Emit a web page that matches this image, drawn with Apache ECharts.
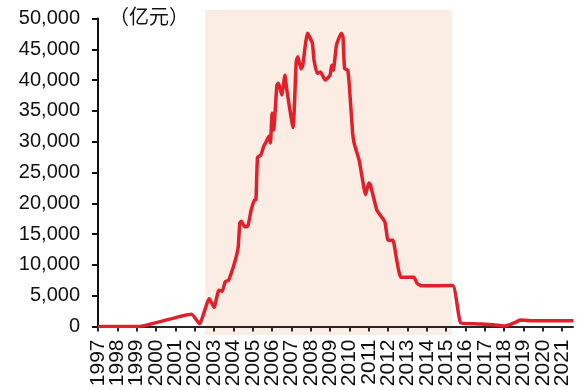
<!DOCTYPE html>
<html>
<head>
<meta charset="utf-8">
<script src="https://cdn.jsdelivr.net/npm/echarts@6/dist/echarts.min.js"></script>
<style>
  html, body { margin: 0; padding: 0; background: #fff; }
  #chart { width: 577px; height: 390px; }
</style>
</head>
<body>
<div id="chart"></div>
<script>
// Month of each observation (YYYY-MM)
const months = [
  '1997-01', '1999-02', '2001-11', '2002-04', '2002-10', '2003-01', '2003-04', '2003-06',
  '2003-08', '2003-10', '2004-01', '2004-03', '2004-04', '2004-05', '2004-06', '2004-08',
  '2004-10', '2004-12', '2005-02', '2005-03', '2005-04', '2005-06', '2005-08', '2005-09',
  '2005-11', '2005-12', '2006-01', '2006-02', '2006-04', '2006-05', '2006-07', '2006-09',
  '2006-10', '2007-02', '2007-04', '2007-05', '2007-07', '2007-08', '2007-11', '2008-02',
  '2008-03', '2008-05', '2008-07', '2008-10', '2009-01', '2009-02', '2009-03', '2009-05',
  '2009-08', '2009-09', '2009-10', '2009-12', '2010-01', '2010-03', '2010-04', '2010-07',
  '2010-10', '2010-11', '2011-01', '2011-02', '2011-06', '2011-08', '2011-11', '2012-01',
  '2012-04', '2012-06', '2012-09', '2013-05', '2013-07', '2013-10', '2013-11', '2015-05',
  '2015-10', '2016-06', '2017-06', '2018-01', '2018-04', '2018-09', '2018-11', '2019-06',
  '2020-06', '2021-08'
];

// Outstanding balance, 亿元
const balance = [
  0, 0, 2000, 450, 4500, 3100, 5900, 5700,
  7300, 7500, 9700, 11600, 12900, 16800, 17100, 16200,
  16300, 18900, 20500, 20600, 27500, 27800, 29400, 29800,
  30900, 29800, 34600, 31900, 39200, 39500, 37600, 40800,
  38700, 32300, 43000, 43800, 41800, 42300, 47600, 46000,
  43300, 41100, 41300, 40000, 40800, 42400, 41600, 45700,
  47600, 47000, 41900, 41600, 38900, 31400, 29700, 27000,
  22500, 21400, 23300, 23000, 18900, 18100, 17000, 14000,
  14000, 11300, 8000, 8000, 7000, 6600, 6600, 6650,
  600, 450, 300, 80, 250, 800, 1050, 950,
  950, 950
];

// Shaded period (start month, end month)
const shadedPeriod = ['2002-07', '2015-04'];

// Year labels on the horizontal axis
const yearLabels = [
  1997, 1998, 1999, 2000, 2001, 2002, 2003, 2004, 2005, 2006, 2007, 2008, 2009,
  2010, 2011, 2012, 2013, 2014, 2015, 2016, 2017, 2018, 2019, 2020, 2021
];

// Axis settings
const yTicks = { min: 0, max: 50000, step: 5000 };
const unitLabel = '（亿元）';

function toYear(m) {
  const [y, mo] = m.split('-').map(Number);
  return y + (mo - 1) / 12;
}

const points = months.map((m, i) => [toYear(m), balance[i]]);

// The end-label overlap check drops the neighbour of the first/last label;
// give it a near-duplicate of each end year to drop instead of a real year.
const firstYear = yearLabels[0];
const lastYear = yearLabels[yearLabels.length - 1];
const labelValues = [firstYear, firstYear + 1e-4]
  .concat(yearLabels.slice(1, -1))
  .concat([lastYear - 1e-4, lastYear]);

const chart = echarts.init(document.getElementById('chart'), null, { renderer: 'canvas' });

const fontFamily = '"Liberation Sans", Arial, sans-serif';

chart.setOption({
  animation: false,
  backgroundColor: '#ffffff',
  grid: { left: 98, right: 4, top: 18.5, bottom: 63.5, containLabel: false },
  xAxis: {
    type: 'value',
    min: firstYear,
    max: lastYear + 0.56,
    interval: 1,
    splitLine: { show: false },
    axisLine: { show: true, onZero: false, lineStyle: { color: '#2b2626', width: 2 } },
    axisTick: {
      show: true, length: 5, customValues: yearLabels,
      lineStyle: { color: '#2b2626', width: 2 }
    },
    axisLabel: {
      rotate: 90,
      margin: 13,
      fontSize: 21,
      lineHeight: 14,
      color: '#111',
      fontFamily: fontFamily,
      customValues: labelValues,
      showMinLabel: true,
      showMaxLabel: true,
      hideOverlap: false,
      formatter: v => String(Math.round(v))
    }
  },
  yAxis: {
    type: 'value',
    min: yTicks.min,
    max: yTicks.max,
    interval: yTicks.step,
    splitLine: { show: false },
    axisLine: { show: true, lineStyle: { color: '#111', width: 2 } },
    axisTick: { show: true, length: 6, lineStyle: { color: '#111', width: 2 } },
    axisLabel: {
      margin: 18,
      fontSize: 20,
      color: '#111',
      fontFamily: fontFamily,
      formatter: v => v.toLocaleString('en-US')
    }
  },
  graphic: [{
    id: 'unit',
    type: 'text',
    left: 109,
    top: 6,
    style: {
      text: unitLabel,
      fontSize: 20,
      fill: '#111',
      fontFamily: '"Noto Sans CJK SC", sans-serif'
    }
  }],
  series: [
    {
      type: 'line',
      data: points,
      z: 3,
      showSymbol: false,
      smooth: 0.15,
      lineStyle: { color: '#e0202a', width: 3.5, join: 'round' }
    }
  ]
});

// Shaded band, placed through the chart's own scales; it runs a little past the plot area
const pA = chart.convertToPixel({ gridIndex: 0 }, [toYear(shadedPeriod[0]) + 0.04, 51370]);
const pB = chart.convertToPixel({ gridIndex: 0 }, [toYear(shadedPeriod[1]) + 0.05, -1400]);
chart.setOption({
  graphic: [{
    id: 'band',
    type: 'rect',
    z: -10,
    silent: true,
    shape: { x: pA[0], y: pA[1], width: pB[0] - pA[0], height: pB[1] - pA[1] },
    style: { fill: '#fbede4' }
  }]
});
</script>
</body>
</html>
